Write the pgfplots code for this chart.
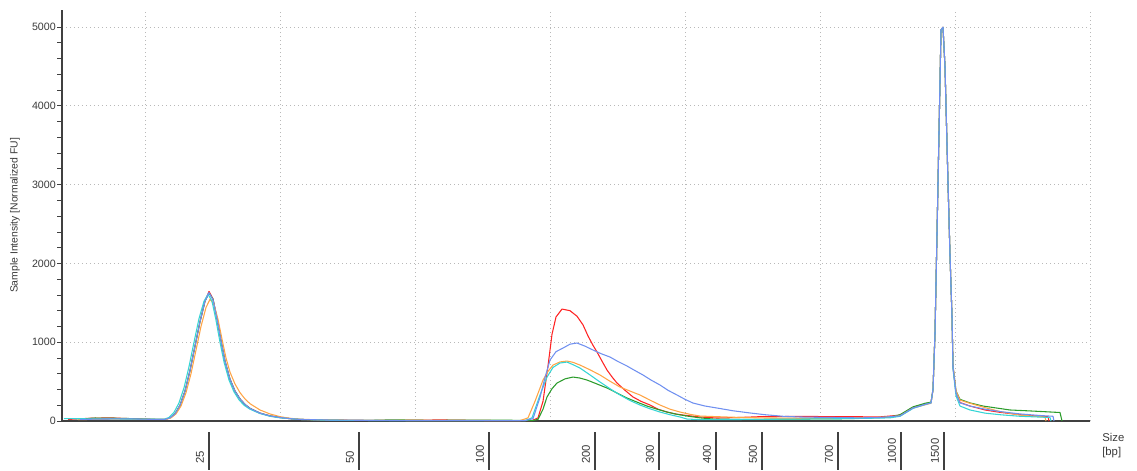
\documentclass[border=0pt]{standalone}
\usepackage{pgfplots}
\pgfplotsset{compat=1.18}
\usepackage{fontspec}
\setmainfont{Liberation Sans}

\definecolor{cred}{HTML}{FF2424}
\definecolor{cblue}{HTML}{7090F0}
\definecolor{corange}{HTML}{FFA445}
\definecolor{ccyan}{HTML}{35D5D5}
\definecolor{cgreen}{HTML}{2C9C2C}
\definecolor{axgray}{HTML}{404040}
\definecolor{txgray}{HTML}{3A3A3A}

\begin{document}
\begin{tikzpicture}
\begin{axis}[
    scale only axis,
    width=771pt, height=308.25pt,
    xmin=62, xmax=1090,
    ymin=0, ymax=5216,
    axis lines*=left,
    axis line style={axgray, line width=0.9pt},
    clip=false,
    xtick={145,280,415,550,685,820,955,1090},
    xticklabels={},
    xmajorgrids=true,
    x tick style={draw=none},
    ytick={0,1000,2000,3000,4000,5000},
    minor y tick num=4,
    ymajorgrids=true,
    grid style={gray!55, line width=0.6pt, dash pattern=on 0.7pt off 2.3pt},
    y tick style={axgray, line width=0.6pt},
    tick align=outside,
    major tick length=3.5pt,
    minor tick length=3.5pt,
    /pgf/number format/assume math mode=true,
    /pgf/number format/1000 sep={},
    yticklabel style={font=\fontsize{8}{9}\selectfont, text=txgray, inner sep=1pt},
    ylabel={Sample Intensity [Normalized FU]},
    every axis y label/.style={at={(axis description cs:-0.0457,0.5)}, rotate=90, anchor=center,
        font=\fontsize{7.8}{9}\selectfont, text=txgray},
    every axis plot/.append style={line width=0.8pt, line join=round},
]
% bounding frame of the whole picture
\path (axis cs:0,-622) rectangle (axis cs:1137,5343);

% red
\addplot[cred] coordinates {
(68,20)(90,35)(110,40)(130,30)(150,22)(165,20)(170,40)(175,90)(180,200)(185,380)(190,640)(195,950)(200,1260)(205,1520)(209,1645)(213,1550)(217,1300)(221,1020)(225,760)(230,530)(235,380)(240,280)(245,210)(250,160)(260,100)(270,65)(280,45)(290,30)(300,20)(330,10)(380,8)(420,10)(440,14)(460,10)(500,5)(532,5)
(538,40)(543,250)(548,700)(552,1100)(556,1320)(562,1421)(570,1400)(577,1330)(583,1220)(588,1080)(593,960)(597,876)(602,760)(607,647)(612,560)(617,482)(625,390)(633,305)(641,250)(650,203)(658,150)(667,114)(675,90)(683,76)(700,51)(717,38)(740,45)(760,55)(800,58)(850,55)(880,52)(900,75)(913,170)(925,215)(931,235)
(933,400)(935,1117)(938,3020)(941,4962)(943,4990)(945,4492)(948,3020)(950,2100)(952,1320)(953,685)(956,355)(960,235)(970,190)(985,140)(1000,110)(1020,80)(1040,60)(1048,55)(1049,0)
};
% green
\addplot[cgreen] coordinates {
(78,22)(95,38)(115,35)(135,30)(155,22)(165,20)(170,40)(175,90)(180,200)(185,380)(190,640)(195,950)(200,1260)(205,1520)(209,1625)(213,1545)(217,1300)(221,1020)(225,760)(230,530)(235,380)(240,280)(245,210)(250,160)(260,100)(270,65)(280,45)(290,30)(300,20)(330,10)(370,8)(390,14)(410,12)(430,8)(480,12)(500,12)(532,5)
(538,20)(543,150)(547,305)(552,410)(557,482)(565,535)(573,558)(580,545)(587,520)(597,470)(607,419)(617,355)(627,292)(637,240)(647,190)(657,150)(667,114)(677,85)(687,63)(700,40)(713,25)(740,20)(800,25)(850,30)(890,50)(900,80)(913,180)(925,225)(931,240)
(933,400)(935,1117)(938,3020)(941,4962)(943,4995)(945,4492)(948,3020)(950,2100)(952,1320)(953,700)(956,380)(960,275)(970,230)(983,190)(1010,140)(1030,128)(1060,108)(1062,0)
};
% orange
\addplot[corange] coordinates {
(78,18)(100,22)(130,25)(150,22)(166,20)(171,40)(176,90)(181,190)(186,360)(191,600)(196,900)(201,1200)(206,1440)(210,1545)(214,1480)(218,1290)(222,1040)(226,800)(230,620)(235,470)(240,360)(245,280)(250,220)(260,140)(270,90)(280,55)(290,35)(300,22)(330,12)(380,8)(430,6)(480,5)(520,5)
(528,40)(535,250)(543,520)(548,630)(553,710)(560,750)(567,761)(573,745)(580,710)(590,650)(600,584)(610,505)(620,431)(630,380)(640,330)(650,265)(660,203)(670,150)(680,114)(690,85)(700,63)(733,48)(760,40)(800,35)(850,38)(880,45)(900,65)(913,165)(925,205)(931,225)
(933,400)(935,1117)(938,3020)(941,4962)(943,5000)(945,4492)(948,3020)(950,2100)(952,1320)(953,700)(956,380)(960,265)(970,225)(985,170)(1000,120)(1020,75)(1040,55)(1045,50)(1046,0)
};
% cyan
\addplot[ccyan] coordinates {
(64,30)(90,28)(120,26)(150,24)(164,22)(169,45)(174,110)(179,230)(184,420)(189,690)(194,1000)(199,1300)(204,1520)(208,1610)(212,1520)(216,1280)(220,1000)(224,750)(229,520)(234,370)(239,270)(244,200)(250,150)(260,95)(270,60)(280,40)(290,30)(300,20)(330,10)(380,6)(430,5)(480,5)(525,5)
(532,40)(540,330)(547,558)(553,680)(560,736)(567,748)(573,715)(580,672)(590,585)(600,495)(610,410)(620,330)(630,260)(640,203)(650,155)(660,114)(670,80)(680,51)(687,25)(700,18)(750,20)(800,25)(850,30)(890,40)(900,60)(913,160)(925,210)(931,230)
(933,400)(935,1117)(938,3020)(941,4962)(943,4995)(945,4492)(948,3020)(950,2100)(952,1320)(953,660)(956,320)(960,190)(970,140)(985,100)(1000,80)(1020,60)(1040,50)(1050,45)(1051,0)
};
% blue
\addplot[cblue] coordinates {
(80,20)(100,25)(130,28)(150,22)(165,20)(170,40)(175,90)(180,200)(185,380)(190,640)(195,950)(200,1260)(205,1520)(209,1630)(213,1540)(217,1300)(221,1020)(225,760)(230,530)(235,380)(240,280)(245,210)(250,160)(260,100)(270,65)(280,45)(290,30)(300,20)(330,12)(356,10)(400,6)(450,5)(525,5)
(533,30)(540,300)(545,550)(550,774)(556,880)(563,926)(570,975)(577,990)(585,950)(593,901)(601,855)(610,812)(618,755)(627,698)(635,640)(643,584)(651,520)(660,457)(668,390)(677,330)(685,275)(693,228)(705,190)(717,165)(733,130)(750,102)(765,80)(783,60)(800,51)(830,45)(860,40)(880,45)(900,65)(913,165)(925,210)(931,230)
(933,400)(935,1117)(938,3020)(941,4962)(943,5000)(945,4492)(948,3020)(950,2100)(952,1320)(953,685)(956,355)(960,230)(970,190)(985,150)(1000,120)(1020,90)(1040,70)(1053,60)(1054,0)
};

% size scale under the axis
\foreach \xp/\lab in {209/25,359/50,489/100,595/200,659/300,716/400,762/500,838/700,901/1000,944/1500}{
  \edef\temp{\noexpand\draw[axgray, line width=0.9pt] (axis cs:\xp,-140) -- (axis cs:\xp,-622);
  \noexpand\node[rotate=90, anchor=west, inner sep=0pt, font=\noexpand\fontsize{8.5}{9}\noexpand\selectfont, text=txgray] at (axis cs:\xp-9,-546) {\lab};}
  \temp
}
\node[anchor=north west, align=left, inner sep=0pt, font=\fontsize{8.5}{10.5}\selectfont, text=txgray] at (axis cs:1102,-152) {Size\\{[bp]}};
\end{axis}
\end{tikzpicture}
\end{document}
